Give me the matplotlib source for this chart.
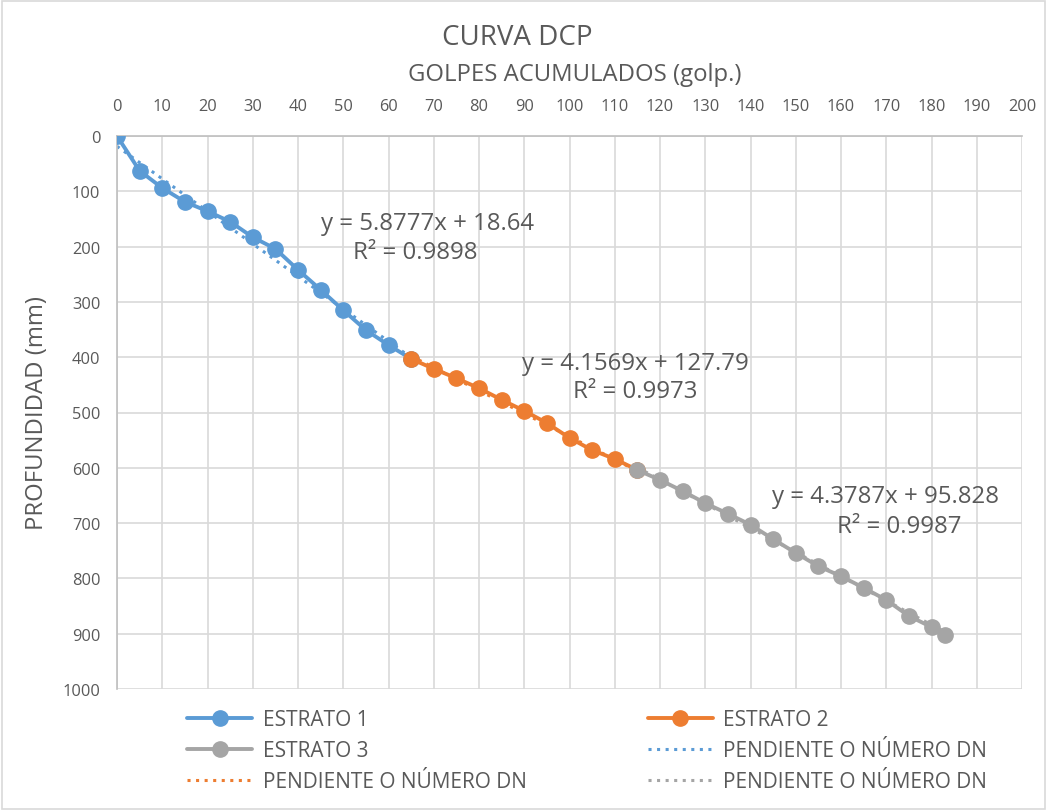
import numpy as np
import matplotlib
matplotlib.use("Agg")
import matplotlib.pyplot as plt
from matplotlib.patches import Rectangle

plt.rcParams['font.family'] = ['Open Sans', 'DejaVu Sans']

# Cumulative blows and penetration depth (mm) per layer
golpes_1 = [0, 5, 10, 15, 20, 25, 30, 35, 40, 45, 50, 55, 60, 65]
prof_1 = [0, 63, 94, 119, 136, 155, 183, 204, 242, 278, 315, 351, 378, 403]

golpes_2 = [65, 70, 75, 80, 85, 90, 95, 100, 105, 110, 115]
prof_2 = [403, 421, 438, 456, 477, 497, 519, 546, 568, 584, 604]

golpes_3 = [115, 120, 125, 130, 135, 140, 145, 150, 155, 160, 165, 170, 175, 180, 183]
prof_3 = [604, 622, 642, 664, 683, 703, 729, 754, 778, 796, 817, 839, 868, 888, 902]

# Linear trend (DN slope) for each layer
pendientes = [5.8777, 4.1569, 4.3787]
intercepts = [18.64, 127.79, 95.828]
r2 = ["0.9898", "0.9973", "0.9987"]

series_names = ["ESTRATO 1", "ESTRATO 2", "ESTRATO 3"]
trend_name = "PENDIENTE O NÚMERO DN"
colors = ["#5B9BD5", "#ED7D31", "#A5A5A5"]
text_color = "#595959"

W, H = 1047, 812
fig = plt.figure(figsize=(W / 100, H / 100), dpi=100)
ax = fig.add_axes([117 / W, 1 - 690 / H, (1022 - 117) / W, (690 - 137) / H])

xs = [golpes_1, golpes_2, golpes_3]
ys = [prof_1, prof_2, prof_3]

series_handles = []
trend_handles = []
for i in range(3):
    h, = ax.plot(xs[i], ys[i], color=colors[i], lw=2.8, marker='o', ms=11,
                 label=series_names[i], zorder=3 + i, solid_capstyle='round')
    series_handles.append(h)
for i in range(3):
    xt = np.array([min(xs[i]), max(xs[i])], dtype=float)
    yt = pendientes[i] * xt + intercepts[i]
    t, = ax.plot(xt, yt, color=colors[i], lw=2.2, ls=(0, (1, 1.8)),
                 label=trend_name, zorder=2)
    trend_handles.append(t)

ax.set_xlim(0, 200)
ax.set_ylim(1000, 0)
ax.set_xticks(np.arange(0, 201, 10))
ax.set_yticks(np.arange(0, 1001, 100))
ax.xaxis.tick_top()
ax.tick_params(axis='both', length=0, labelsize=11.8, labelcolor=text_color)
ax.tick_params(axis='y', pad=12)
ax.tick_params(axis='x', pad=16)
ax.grid(True, color="#D9D9D9", lw=1.2, zorder=0)
ax.set_axisbelow(True)
for side in ['right', 'bottom']:
    ax.spines[side].set_visible(False)
for side in ['left', 'top']:
    ax.spines[side].set_color("#BFBFBF")
    ax.spines[side].set_linewidth(1.2)

fig.text(517 / W, 1 - 38 / H, "CURVA DCP", fontsize=20, color=text_color,
         ha='center', va='center')
fig.text(575 / W, 1 - 75 / H, "GOLPES ACUMULADOS (golp.)", fontsize=17.2,
         color=text_color, ha='center', va='center')
fig.text(37 / W, 1 - 413 / H, "PROFUNDIDAD (mm)", fontsize=17.2, color=text_color,
         ha='center', va='center', rotation=90)

# Trend equations
eq_pos = [(428, 224, 415, 253), (635, 364, 635, 392), (886, 497, 899, 527)]
for i in range(3):
    x1, y1, x2, y2 = eq_pos[i]
    fig.text(x1 / W, 1 - y1 / H, f"y = {pendientes[i]}x + {intercepts[i]}",
             fontsize=17.3, color=text_color, ha='center', va='center')
    fig.text(x2 / W, 1 - y2 / H, f"R² = {r2[i]}",
             fontsize=17.3, color=text_color, ha='center', va='center')

# Legend in two columns, filled row by row
handles = [series_handles[0], series_handles[2], trend_handles[1],
           series_handles[1], trend_handles[0], trend_handles[2]]
labels = [h.get_label() for h in handles]
fig.legend(handles, labels, ncol=2, loc='upper left',
           bbox_to_anchor=(177 / W, 1 - 700 / H), frameon=False, borderpad=0,
           fontsize=15, labelcolor=text_color, handlelength=3.12,
           handletextpad=0.5, columnspacing=5.8, labelspacing=0.47)

# Chart area border
fig.patches.append(Rectangle((0.002, 0.002), 0.996, 0.996, transform=fig.transFigure,
                             fill=False, edgecolor="#D9D9D9", lw=1.2))

fig.savefig("out.png", dpi=100)
